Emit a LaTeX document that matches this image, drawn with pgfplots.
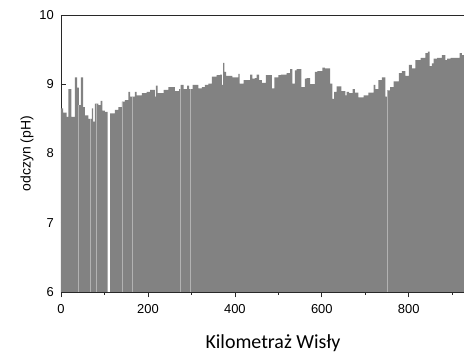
\documentclass[border=0pt]{standalone}
\usepackage{fontspec}
\setmainfont{Liberation Sans}
\newfontfamily\carlito{Carlito}
\usepackage{pgfplots}
\pgfplotsset{compat=1.18}
\usepackage{pgfplotstable}

\definecolor{bargray}{RGB}{130,130,130}
\definecolor{stripe}{RGB}{178,178,178}
\definecolor{axisline}{RGB}{40,40,40}

% pH readings along the Vistula, km 0 to 107
\pgfplotstableread{
km ph
0 8.65
5 8.59
13 8.53
17 8.93
24 8.53
32 9.10
37 8.95
41 8.70
46 9.10
51 8.67
55 8.55
63 8.50
71 8.65
74 8.46
78 8.72
86 8.70
91 8.76
95 8.62
101 8.60
107 8.60
}\segA

% pH readings, km 113 onward
\pgfplotstableread{
km ph
113 8.58
124 8.63
132 8.67
140 8.75
147 8.77
155 8.89
159 8.82
170 8.89
174 8.84
186 8.87
197 8.89
205 8.92
216 8.82
218 8.98
222 8.87
236 8.92
247 8.96
262 8.90
272 8.93
275 8.99
282 8.93
290 8.98
295 8.93
303 8.99
316 8.94
324 8.96
331 8.99
339 9.01
347 9.11
358 9.13
366 9.14
370 8.99
373 9.31
376 9.18
380 9.12
394 9.10
408 9.15
411 9.01
420 9.06
435 9.14
440 9.08
446 9.09
450 9.14
456 9.06
462 9.02
471 9.13
485 8.94
491 9.10
500 9.13
506 9.14
519 9.16
527 9.22
532 9.01
538 9.20
542 9.22
553 8.96
561 9.08
565 9.09
573 9.00
584 9.18
590 9.19
601 9.24
607 9.23
619 9.01
624 8.79
628 8.89
634 8.97
645 8.90
654 8.84
657 8.89
663 8.87
671 8.93
676 8.88
684 8.81
696 8.84
707 8.88
719 8.99
723 8.93
730 9.06
738 9.10
746 8.82
751 8.91
757 8.96
765 9.04
777 9.16
784 9.19
792 9.12
800 9.28
807 9.23
815 9.35
827 9.38
838 9.45
844 9.47
848 9.26
853 9.30
857 9.37
865 9.38
876 9.42
884 9.35
888 9.37
896 9.38
907 9.38
917 9.45
922 9.42
927 9.42
}\segB

% short gaps between measurements
\pgfplotstableread{
km ph
40 8.70
68 8.50
82 8.72
142 8.75
164 8.82
274 8.93
297 8.93
751 8.91
}\gaps

\begin{document}
\begin{tikzpicture}
\begin{axis}[
  scale only axis,
  width=403bp, height=277bp,
  xmin=0, xmax=927, ymin=6, ymax=10,
  axis x line*=box, axis y line*=left,
  axis line style={draw=axisline, line width=0.8bp},
  xtick pos=left, ytick pos=left,
  tick align=inside,
  xtick={0,200,400,600,800},
  minor xtick={100,300,500,700,900},
  ytick={6,7,8,9,10},
  major tick length=5.5bp, minor tick length=3bp,
  tick style={draw=axisline, line width=0.7bp},
  major x tick style={yshift=-5.5bp},
  minor x tick style={yshift=-3bp},
  /pgf/number format/assume math mode=true,
  ticklabel style={font=\fontsize{13}{15}\selectfont},
  xticklabel style={inner sep=0pt, anchor=north, yshift=-12bp},
  yticklabel style={inner sep=0pt, anchor=east, xshift=-7bp},
  xlabel={Kilometraż Wisły},
  xlabel style={font=\carlito\fontsize{20}{24}\selectfont,
    at={(axis description cs:0.526,-0.203)}, anchor=base},
  ylabel={odczyn (pH)},
  ylabel style={font=\fontsize{14}{16}\selectfont,
    at={(axis description cs:-0.0844,0.5)}, anchor=center},
]
\addplot[draw=none, fill=bargray, const plot] table[x=km, y=ph] {\segA} \closedcycle;
\addplot[draw=none, fill=bargray, const plot] table[x=km, y=ph] {\segB} \closedcycle;
\addplot[ycomb, draw=stripe, line width=0.7bp, no marks] table[x=km, y=ph] {\gaps};
\coordinate (ax-tl) at (rel axis cs:0,1);
\coordinate (ax-br) at (rel axis cs:1,0);
\end{axis}
\pgfresetboundingbox
\path[use as bounding box] ([xshift=-61bp,yshift=15bp]ax-tl) rectangle ([yshift=-62bp]ax-br);
\end{tikzpicture}
\end{document}
